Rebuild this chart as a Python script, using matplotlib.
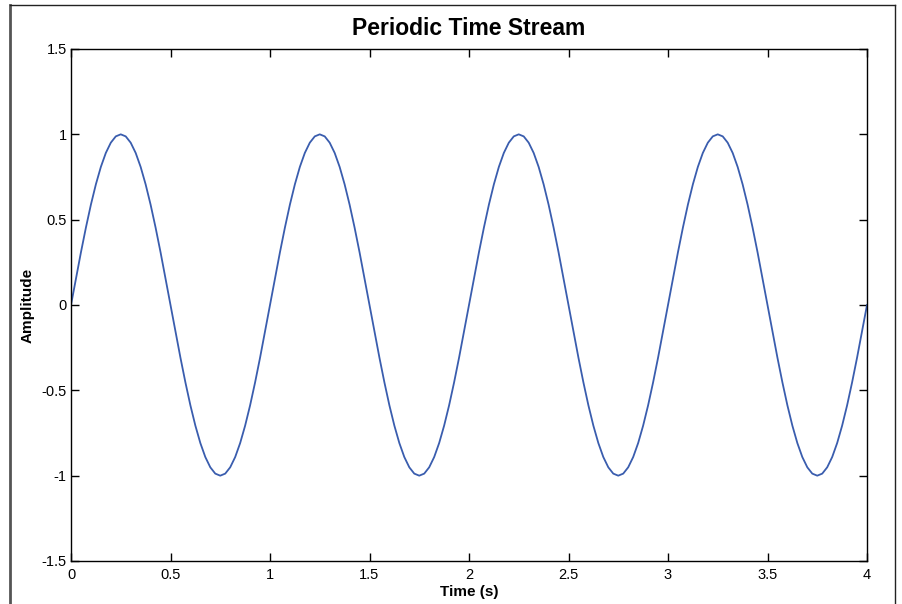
import numpy as np
import matplotlib.pyplot as plt

plt.rcParams['font.family'] = ['Liberation Sans', 'DejaVu Sans']

# one cycle of the stream, sampled every 0.025 s (period = 1 s)
cycle_amplitude = [
    0.0, 0.156, 0.309, 0.454, 0.588, 0.707, 0.809, 0.891, 0.951, 0.988,
    1.0, 0.988, 0.951, 0.891, 0.809, 0.707, 0.588, 0.454, 0.309, 0.156,
    0.0, -0.156, -0.309, -0.454, -0.588, -0.707, -0.809, -0.891, -0.951, -0.988,
    -1.0, -0.988, -0.951, -0.891, -0.809, -0.707, -0.588, -0.454, -0.309, -0.156,
]
n_cycles = 4
sample_step = 0.025

amplitude = np.append(np.tile(cycle_amplitude, n_cycles), cycle_amplitude[0])
time = np.arange(len(amplitude)) * sample_step

x_ticks = [0, 0.5, 1, 1.5, 2, 2.5, 3, 3.5, 4]
x_ticklabels = ['0', '0.5', '1', '1.5', '2', '2.5', '3', '3.5', '4']
y_ticks = [-1.5, -1, -0.5, 0, 0.5, 1, 1.5]
y_ticklabels = ['-1.5', '-1', '-0.5', '0', '0.5', '1', '1.5']

fig = plt.figure(figsize=(9.02, 6.04), dpi=100)
ax = fig.add_axes([71 / 902, 1 - 561 / 604, 796 / 902, 512 / 604])

ax.plot(time, amplitude, color='#3a5dae', linewidth=1.3)

ax.set_xlim(0, 4)
ax.set_ylim(-1.5, 1.5)
ax.set_xticks(x_ticks)
ax.set_xticklabels(x_ticklabels)
ax.set_yticks(y_ticks)
ax.set_yticklabels(y_ticklabels)
ax.tick_params(direction='in', length=6, width=1, top=True, right=True,
               labelsize=10.5)
ax.tick_params(axis='x', pad=5)
ax.tick_params(axis='y', pad=3)
for side in ax.spines.values():
    side.set_linewidth(1)

ax.set_title('Periodic Time Stream', fontsize=16.5, fontweight='bold', pad=10)
ax.set_xlabel('Time (s)', fontsize=11, fontweight='bold', labelpad=2)
ax.set_ylabel('Amplitude', fontsize=11, fontweight='bold', labelpad=5)

# outer frame around the figure, open at the bottom
fig.add_artist(plt.Line2D([10 / 902, 10 / 902], [0, 1 - 5 / 604],
                          color='#555555', linewidth=2, transform=fig.transFigure))
fig.add_artist(plt.Line2D([10 / 902, 895 / 902], [1 - 5 / 604, 1 - 5 / 604],
                          color='#222222', linewidth=1, transform=fig.transFigure))
fig.add_artist(plt.Line2D([895 / 902, 895 / 902], [0, 1 - 5 / 604],
                          color='#222222', linewidth=1, transform=fig.transFigure))

fig.savefig('out.png', dpi=100)
